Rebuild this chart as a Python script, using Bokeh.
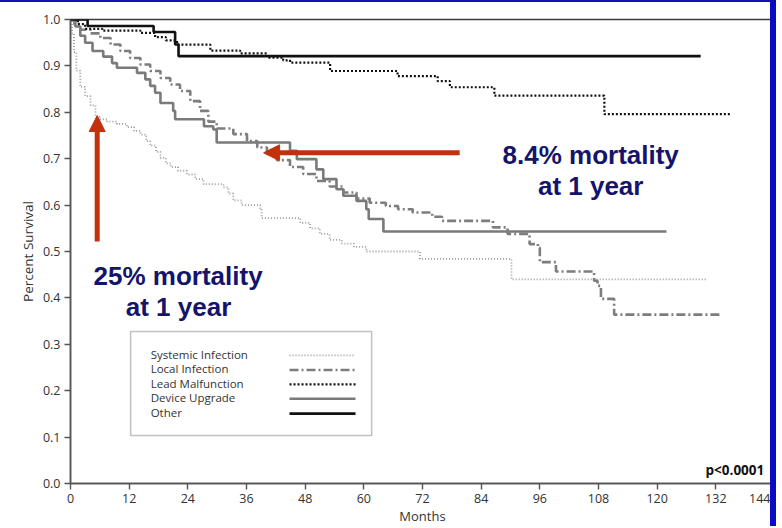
from bokeh.plotting import figure
from bokeh.models import Range1d, FixedTicker, Label, Arrow, NormalHead, BoxAnnotation
from bokeh.embed import file_html
from bokeh.resources import INLINE

# ---------------- data ----------------
x_ticks = [0, 12, 24, 36, 48, 60, 72, 84, 96, 108, 120, 132, 144]
x_tick_labels = ["0", "12", "24", "36", "48", "60", "72", "84", "96", "108", "120", "132", "144"]
y_ticks = [0.0, 0.1, 0.2, 0.3, 0.4, 0.5, 0.6, 0.7, 0.8, 0.9, 1.0]
y_tick_labels = ["0.0", "0.1", "0.2", "0.3", "0.4", "0.5", "0.6", "0.7", "0.8", "0.9", "1.0"]

series_names = ["Systemic Infection", "Local Infection", "Lead Malfunction", "Device Upgrade", "Other"]

systemic_t = [0, 0.3, 0.7, 1.2, 2.0, 3.0, 4.1, 5.1, 6.0, 7.5, 9.5, 11.5, 13.0, 14.3, 15.5, 16.3,
              17.5, 18.4, 19.5, 20.5, 22.0, 23.8, 25.5, 27.2, 31.3, 32.3, 33.3, 35.0, 38.8, 39.1,
              47.0, 49.0, 51.0, 53.0, 55.5, 58.0, 60.5, 71.5, 90.2, 130.2]
systemic_s = [1.0, 0.97, 0.93, 0.89, 0.855, 0.835, 0.815, 0.79, 0.785, 0.78, 0.775, 0.768, 0.76, 0.752,
              0.738, 0.728, 0.715, 0.702, 0.69, 0.682, 0.674, 0.666, 0.656, 0.645, 0.638, 0.625, 0.61,
              0.6, 0.593, 0.572, 0.562, 0.55, 0.538, 0.525, 0.517, 0.51, 0.5, 0.484, 0.44, 0.44]

local_t = [0, 0.8, 2.0, 4.1, 6.1, 8.2, 10.2, 12.2, 14.3, 16.3, 18.4, 20.4, 22.4, 24.5, 26.5, 28.2,
           29.9, 33.3, 36.1, 38.2, 40.2, 42.2, 44.9, 47.6, 50.3, 53.0, 55.8, 58.5, 61.2, 64.5, 67.0,
           70.0, 74.0, 76.0, 86.4, 89.4, 93.9, 95.6, 96.0, 99.3, 107.1, 107.8, 108.5, 111.2, 132.9]
local_s = [1.0, 0.99, 0.978, 0.97, 0.96, 0.946, 0.932, 0.917, 0.903, 0.889, 0.874, 0.86, 0.846, 0.824,
           0.803, 0.78, 0.765, 0.753, 0.738, 0.724, 0.71, 0.697, 0.682, 0.667, 0.652, 0.64, 0.627,
           0.614, 0.605, 0.598, 0.591, 0.584, 0.575, 0.566, 0.552, 0.538, 0.516, 0.508, 0.477, 0.457,
           0.437, 0.426, 0.398, 0.364, 0.364]

lead_t = [0, 1.5, 3.0, 6.5, 14.3, 17.3, 19.5, 21.8, 28.6, 34.7, 40.2, 43.5, 44.9, 53.1, 66.9, 75.1,
          77.6, 86.7, 109.2, 135.0]
lead_s = [1.0, 0.99, 0.98, 0.976, 0.971, 0.962, 0.955, 0.946, 0.933, 0.927, 0.918, 0.912, 0.907, 0.889,
          0.878, 0.867, 0.854, 0.836, 0.796, 0.796]

device_t = [0, 1.0, 2.0, 3.0, 4.5, 6.7, 8.5, 9.5, 13.6, 15.3, 16.3, 17.3, 18.4, 21.0, 21.4, 27.3,
            29.2, 29.9, 44.9, 46.3, 50.3, 51.7, 54.4, 55.8, 58.5, 60.5, 61.0, 64.0, 121.9]
device_s = [1.0, 0.985, 0.965, 0.95, 0.932, 0.92, 0.906, 0.896, 0.885, 0.871, 0.857, 0.842, 0.82,
            0.803, 0.785, 0.77, 0.763, 0.735, 0.717, 0.699, 0.677, 0.656, 0.634, 0.62, 0.609, 0.591,
            0.57, 0.543, 0.543]

other_t = [0, 3.5, 17.0, 21.4, 22.1, 128.9]
other_s = [1.0, 0.986, 0.973, 0.946, 0.921, 0.921]

# ---------------- styles ----------------
RED = "#c2300c"
NAVY = "#14146c"
styles = [
    dict(line_color="#9a9a9a", line_width=1.8, line_dash="1 2"),
    dict(line_color="#7d7d7d", line_width=2.6, line_dash="9 3 2 3"),
    dict(line_color="#111111", line_width=2.2, line_dash="2 2"),
    dict(line_color="#7a7a7a", line_width=2.6, line_dash="solid"),
    dict(line_color="#111111", line_width=2.6, line_dash="solid"),
]

p = figure(width=776, height=526, output_backend="svg", toolbar_location=None,
           x_range=Range1d(0, 144), y_range=Range1d(0, 1.0),
           min_border_left=70, min_border_right=2, min_border_top=17, min_border_bottom=45,
           styles={"border-top": "2px solid #1212b4", "border-right": "6px solid #0b0bc2"})
p.background_fill_color = "white"
p.border_fill_color = "white"
p.outline_line_color = "#3a3a3a"
p.outline_line_width = 1.4
p.xgrid.visible = False
p.ygrid.visible = False

for ax in (p.xaxis[0], p.yaxis[0]):
    ax.axis_line_color = "#555555"
    ax.axis_line_width = 1.6
    ax.major_tick_line_color = "#555555"
    ax.major_tick_line_width = 1.4
    ax.major_tick_out = 6
    ax.major_tick_in = 0
    ax.minor_tick_line_color = None
    ax.major_label_text_font = "Open Sans"
    ax.major_label_text_font_size = "12.5px"
    ax.major_label_text_color = "#333333"
    ax.major_label_standoff = 4
    ax.axis_label_text_font = "Open Sans"
    ax.axis_label_text_font_style = "normal"
    ax.axis_label_text_color = "#333333"

p.xaxis.axis_label = "Months"
p.xaxis.axis_label_text_font_size = "13px"
p.xaxis.axis_label_standoff = 1
p.yaxis.axis_label = "Percent Survival"
p.yaxis.axis_label_text_font_size = "13.5px"
p.yaxis.axis_label_standoff = 3

p.xaxis.ticker = FixedTicker(ticks=x_ticks)
p.xaxis.major_label_overrides = {t: l for t, l in zip(x_ticks, x_tick_labels)}
p.yaxis.ticker = FixedTicker(ticks=y_ticks)
p.yaxis.major_label_overrides = {t: l for t, l in zip(y_ticks, y_tick_labels)}

all_t = [systemic_t, local_t, lead_t, device_t, other_t]
all_s = [systemic_s, local_s, lead_s, device_s, other_s]
# draw the lighter curves first, darker ones on top
for idx in [0, 3, 1, 2, 4]:
    p.step(all_t[idx], all_s[idx], mode="after", **styles[idx])

# ---------------- legend (label left, sample right) ----------------
leg_left, leg_right, leg_top, leg_bottom = 12.3, 61.6, 0.3276, 0.1034
p.add_layout(BoxAnnotation(left=leg_left, right=leg_right, top=leg_top, bottom=leg_bottom,
                           fill_color=None, line_color="#333333", line_width=1.5))
leg_y = [0.279, 0.2475, 0.2165, 0.1855, 0.1535]
for i, name in enumerate(series_names):
    p.add_layout(Label(x=16.4, y=leg_y[i], text=name, text_font="Open Sans",
                       text_font_size="11.5px", text_color="#333333", text_baseline="middle"))
    p.line([44.8, 58.3], [leg_y[i] - 0.003, leg_y[i] - 0.003], **styles[i])

# ---------------- annotations ----------------
p.add_layout(Arrow(x_start=5.46, y_start=0.5216, x_end=5.46, y_end=0.793,
                   line_color=RED, line_width=5,
                   end=NormalHead(size=16, fill_color=RED, line_color=RED, line_width=1)))
p.add_layout(Arrow(x_start=79.6, y_start=0.7127, x_end=39.5, y_end=0.7127,
                   line_color=RED, line_width=5,
                   end=NormalHead(size=16, fill_color=RED, line_color=RED, line_width=1)))

for (x, y, t) in [(106.4, 0.709, "8.4% mortality"), (106.4, 0.642, "at 1 year"),
                  (22.0, 0.448, "25% mortality"), (22.1, 0.380, "at 1 year")]:
    p.add_layout(Label(x=x, y=y, text=t, text_font="Liberation Sans", text_font_style="bold",
                       text_font_size="26px", text_color=NAVY, text_align="center",
                       text_baseline="alphabetic"))

p.add_layout(Label(x=129.9, y=0.0295, text="p<0.0001", text_font="Open Sans",
                   text_font_style="bold", text_font_size="13.5px", text_color="#111111",
                   text_baseline="alphabetic"))

open("out.html", "w").write(file_html(p, INLINE))
